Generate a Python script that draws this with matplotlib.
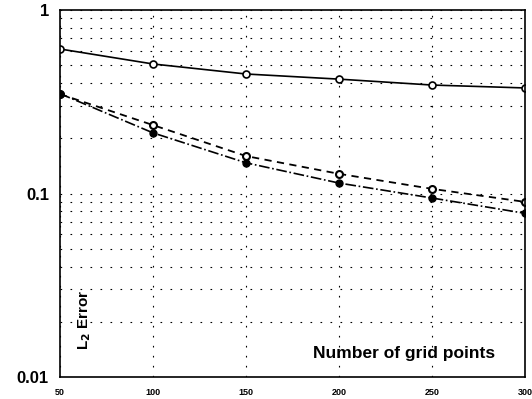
import numpy as np
import matplotlib
matplotlib.use("Agg")
import matplotlib.pyplot as plt

plt.rcParams['font.family'] = ['Liberation Sans', 'DejaVu Sans']

# grid sizes and L2 errors
grid_points = [50, 100, 150, 200, 250, 300]
err_solid = [0.613, 0.508, 0.448, 0.420, 0.390, 0.376]
err_dashed = [0.348, 0.236, 0.160, 0.128, 0.106, 0.090]
err_dashdot = [0.350, 0.214, 0.147, 0.114, 0.0945, 0.078]

fig = plt.figure(figsize=(5.32, 3.99), dpi=100)
ax = fig.add_axes([60/532, 1 - 377/399, 465/532, 367/399])

ax.plot(grid_points, err_solid, '-', color='k', lw=1.2,
        marker='o', ms=5, mfc='white', mec='k', mew=1.2)
ax.plot(grid_points, err_dashed, '--', color='k', lw=1.3, dashes=(4, 3),
        marker='o', ms=5, mfc='white', mec='k', mew=1.5)
ax.plot(grid_points, err_dashdot, '-.', color='k', lw=1.2,
        marker='o', ms=5, mfc='k', mec='k')

ax.set_yscale('log')
ax.set_xlim(50, 300)
ax.set_ylim(0.01, 1)
ax.set_xticks(grid_points)
ax.set_xticklabels([str(v) for v in grid_points], fontsize=6.5, fontweight='bold')
ax.set_yticks([0.01, 0.1, 1])
ax.set_yticklabels(['0.01', '0.1', '1'], fontsize=12, fontweight='bold')
ax.yaxis.set_minor_formatter(matplotlib.ticker.NullFormatter())
ax.tick_params(which='both', length=0)
ax.tick_params(axis='x', pad=8)
ax.tick_params(axis='y', pad=8)

dots = (0, (1.5, 7.5))
ax.grid(True, which='both', axis='y', ls=dots, color='k', lw=0.8)
ax.grid(True, which='major', axis='x', ls=dots, color='k', lw=0.8)

for s in ax.spines.values():
    s.set_linewidth(1.2)

ax.text(0.935, 0.065, 'Number of grid points', transform=ax.transAxes,
        ha='right', va='center', fontsize=12.5, fontweight='bold')
ax.text(0.054, 0.155, 'L$_\\mathbf{2}$ Error', transform=ax.transAxes, rotation=90,
        ha='center', va='center', fontsize=11, fontweight='bold')

fig.savefig('out.png', dpi=100)
